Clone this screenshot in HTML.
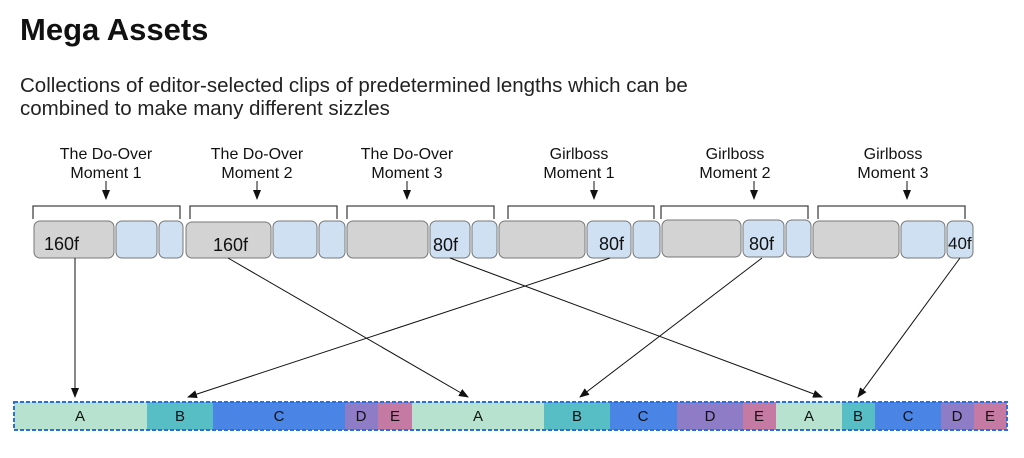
<!DOCTYPE html>
<html><head><meta charset="utf-8"><style>
html,body{margin:0;padding:0;background:#fff;width:1024px;height:458px;overflow:hidden}
svg{display:block;font-family:"Liberation Sans",sans-serif}
</style></head><body>
<svg width="1024" height="458" viewBox="0 0 1024 458">
<defs><marker id="a" markerWidth="10" markerHeight="8" refX="9" refY="4" orient="auto" markerUnits="userSpaceOnUse"><path d="M0,0 L10,4 L0,8 z" fill="#111"/></marker></defs>
<text x="20" y="40" font-size="31" font-weight="bold" fill="#111">Mega Assets</text>
<text x="20" y="92" font-size="20.5" fill="#222">Collections of editor-selected clips of predetermined lengths which can be</text>
<text x="20" y="115" font-size="20.5" fill="#222">combined to make many different sizzles</text>
<g font-size="16" fill="#111" text-anchor="middle">
<text x="106" y="159">The Do-Over</text><text x="106" y="178">Moment 1</text>
<text x="257" y="159">The Do-Over</text><text x="257" y="178">Moment 2</text>
<text x="407" y="159">The Do-Over</text><text x="407" y="178">Moment 3</text>
<text x="579" y="159">Girlboss</text><text x="579" y="178">Moment 1</text>
<text x="735" y="159">Girlboss</text><text x="735" y="178">Moment 2</text>
<text x="893" y="159">Girlboss</text><text x="893" y="178">Moment 3</text>
</g>
<g stroke="#111" stroke-width="1" marker-end="url(#a)">
<line x1="106" y1="181" x2="106" y2="199"/><line x1="257" y1="181" x2="257" y2="199"/>
<line x1="407" y1="181" x2="407" y2="199"/><line x1="594" y1="181" x2="594" y2="199"/>
<line x1="754" y1="181" x2="754" y2="199"/><line x1="907" y1="181" x2="907" y2="199"/>
</g>
<g fill="none" stroke="#444" stroke-width="1.3">
<path d="M33,219 V206 H180 V219"/><path d="M190,219 V206 H337 V219"/><path d="M347,219 V206 H494 V219"/>
<path d="M508,219 V206 H654 V219"/><path d="M661,219 V206 H808 V219"/><path d="M818,219 V206 H965 V219"/>
</g>
<g stroke="#777" stroke-width="1">
<rect x="34" y="221" width="80" height="37" rx="6" fill="#d3d3d3"/>
<rect x="116" y="221" width="41" height="37" rx="6" fill="#cfe0f3"/>
<rect x="159" y="221" width="24" height="37" rx="6" fill="#cfe0f3"/>
<rect x="186" y="222" width="85" height="36" rx="6" fill="#d3d3d3"/>
<rect x="273" y="221" width="44" height="37" rx="6" fill="#cfe0f3"/>
<rect x="319" y="221" width="26" height="37" rx="6" fill="#cfe0f3"/>
<rect x="347" y="221" width="81" height="37" rx="6" fill="#d3d3d3"/>
<rect x="430" y="221" width="40" height="37" rx="6" fill="#cfe0f3"/>
<rect x="472" y="221" width="25" height="37" rx="6" fill="#cfe0f3"/>
<rect x="499" y="221" width="86" height="37" rx="6" fill="#d3d3d3"/>
<rect x="587" y="221" width="44" height="37" rx="6" fill="#cfe0f3"/>
<rect x="633" y="221" width="27" height="37" rx="6" fill="#cfe0f3"/>
<rect x="662" y="220" width="79" height="37" rx="6" fill="#d3d3d3"/>
<rect x="743" y="220" width="41" height="37" rx="6" fill="#cfe0f3"/>
<rect x="786" y="220" width="25" height="37" rx="6" fill="#cfe0f3"/>
<rect x="813" y="221" width="86" height="37" rx="6" fill="#d3d3d3"/>
<rect x="901" y="221" width="44" height="37" rx="6" fill="#cfe0f3"/>
<rect x="947" y="221" width="26" height="37" rx="6" fill="#cfe0f3"/>
</g>
<g font-size="18" fill="#111">
<text x="44" y="250">160f</text><text x="213" y="251">160f</text><text x="433" y="251">80f</text>
<text x="599" y="250">80f</text><text x="749" y="250">80f</text><text x="948" y="249" font-size="17">40f</text>
</g>
<g stroke="#111" stroke-width="1" marker-end="url(#a)">
<line x1="75" y1="258" x2="75" y2="397"/>
<line x1="228" y1="258" x2="468" y2="397"/>
<line x1="450" y1="258" x2="822" y2="397"/>
<line x1="610" y1="258" x2="188" y2="397"/>
<line x1="762" y1="258" x2="580" y2="397"/>
<line x1="960" y1="258" x2="858" y2="397"/>
</g>
<g>
<rect x="14" y="402" width="133" height="28" fill="#b6e2cf"/>
<rect x="147" y="402" width="66" height="28" fill="#58bec6"/>
<rect x="213" y="402" width="132" height="28" fill="#4a84e4"/>
<rect x="345" y="402" width="33" height="28" fill="#8f7cc6"/>
<rect x="378" y="402" width="34" height="28" fill="#c47aa2"/>
<rect x="412" y="402" width="132" height="28" fill="#b6e2cf"/>
<rect x="544" y="402" width="66" height="28" fill="#58bec6"/>
<rect x="610" y="402" width="67" height="28" fill="#4a84e4"/>
<rect x="677" y="402" width="66" height="28" fill="#8f7cc6"/>
<rect x="743" y="402" width="33" height="28" fill="#c47aa2"/>
<rect x="776" y="402" width="66" height="28" fill="#b6e2cf"/>
<rect x="842" y="402" width="33" height="28" fill="#58bec6"/>
<rect x="875" y="402" width="66" height="28" fill="#4a84e4"/>
<rect x="941" y="402" width="33" height="28" fill="#8f7cc6"/>
<rect x="974" y="402" width="33" height="28" fill="#c47aa2"/>
<rect x="14" y="402" width="993" height="28" fill="none" stroke="#2a6fe0" stroke-width="2" stroke-dasharray="4,2"/>
</g>
<g font-size="15" fill="#111" text-anchor="middle">
<text x="80" y="421">A</text><text x="180" y="421">B</text><text x="279" y="421">C</text><text x="361" y="421">D</text><text x="395" y="421">E</text>
<text x="478" y="421">A</text><text x="577" y="421">B</text><text x="643" y="421">C</text><text x="710" y="421">D</text><text x="759" y="421">E</text>
<text x="809" y="421">A</text><text x="858" y="421">B</text><text x="908" y="421">C</text><text x="957" y="421">D</text><text x="990" y="421">E</text>
</g>
</svg>
</body></html>
